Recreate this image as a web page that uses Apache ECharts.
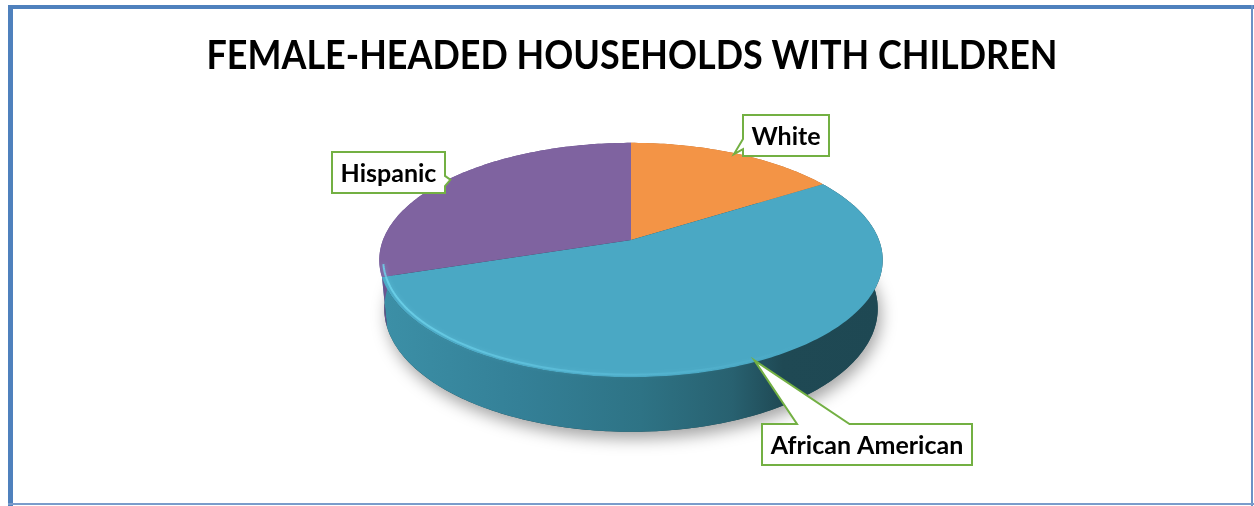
<!DOCTYPE html>
<html>
<head>
<meta charset="utf-8">
<style>
  html, body { margin: 0; padding: 0; background: #ffffff; }
  #chart { width: 1254px; height: 506px; }
</style>
<script src="https://cdn.jsdelivr.net/npm/echarts@6/dist/echarts.min.js"></script>
</head>
<body>
<div id="chart"></div>
<script>
// ---- data ----
const chartTitle = 'FEMALE-HEADED HOUSEHOLDS WITH CHILDREN';
const categories = ['White', 'African American', 'Hispanic'];
const shares = [16, 54, 30];

// ---- styling ----
const topColors = ['#F39446', '#4AA8C4', '#7F63A0'];
const sideStops = [
  [[0, '#c77a3a'], [1, '#a8622a']],
  [[0, '#3c90a7'], [0.28, '#348097'], [0.52, '#2e7385'], [0.7, '#286170'], [0.8, '#1f4954'], [1, '#1e4853']],
  [[0, '#6a5490'], [1, '#5a477a']]
];
const LABEL_FONT = 'bold 25px Lato';
const TITLE_FONT = 'bold 40px Lato';
// box top-left corners for the callouts
const labelBoxes = [[743, 115], [762, 424], [332, 152]];

// ---- 3D disc projection ----
const CX = 631, CY = 240, S = 248, DIST = 5.2;
const ELEV = 27.3 * Math.PI / 180;
const THICK = 0.2225;
const sinE = Math.sin(ELEV), cosE = Math.cos(ELEV);

function project(r, deg, w) {
  const t = deg * Math.PI / 180;
  const u = r * Math.sin(t), v = r * Math.cos(t);
  const yc = v * sinE + w * cosE;
  const zc = DIST + v * cosE - w * sinE;
  return [CX + S * DIST * u / zc, CY - S * DIST * yc / zc];
}
function arc(r, a0, a1, w) {
  const pts = [];
  const n = Math.max(2, Math.ceil(Math.abs(a1 - a0)));
  for (let k = 0; k <= n; k++) pts.push(project(r, a0 + (a1 - a0) * k / n, w));
  return pts;
}

const total = shares.reduce((a, b) => a + b, 0);
const startAngles = [];
let acc = 0;
shares.forEach(v => { startAngles.push(acc / total * 360); acc += v; });

const measureCtx = document.createElement('canvas').getContext('2d');
function textWidth(t, font) { measureCtx.font = font; return measureCtx.measureText(t).width; }

// rectangular callout with a wedge pointing at (tx, ty)
function calloutPoints(l, t, w, h, tx, ty) {
  const hc = l + w / 2, vc = t + h / 2;
  const dx = tx - hc, dy = ty - vc;
  const dq = dx * h / w;
  const pts = [[l, t]];
  const vertical = Math.abs(dy) > Math.abs(dq);
  const x1 = l + w * (dx > 0 ? 7 : 2) / 12, x2 = l + w * (dx > 0 ? 10 : 5) / 12;
  const y1 = t + h * (dy > 0 ? 7 : 2) / 12, y2 = t + h * (dy > 0 ? 10 : 5) / 12;
  if (vertical && dy < 0) pts.push([x1, t], [tx, ty], [x2, t]);
  pts.push([l + w, t]);
  if (!vertical && dx > 0) pts.push([l + w, y1], [tx, ty], [l + w, y2]);
  pts.push([l + w, t + h]);
  if (vertical && dy > 0) pts.push([x2, t + h], [tx, ty], [x1, t + h]);
  pts.push([l, t + h]);
  if (!vertical && dx < 0) pts.push([l, y2], [tx, ty], [l, y1]);
  return pts;
}

function renderSlice(params, api) {
  const i = params.dataIndex;
  const a0 = startAngles[i];
  const a1 = a0 + api.value(0) / total * 360;
  const children = [];

  if (i === 0) {
    // soft shadow under the whole disc
    children.push({
      type: 'polygon', z2: 0,
      shape: { points: arc(1, 0, 360, -THICK) },
      style: { fill: '#1e4853', shadowBlur: 16, shadowOffsetY: 7, shadowOffsetX: 3, shadowColor: 'rgba(0,0,0,0.36)' }
    });
  }

  // outer wall
  const wall = arc(1, a0, a1, 0).concat(arc(1, a0, a1, -THICK).reverse());
  children.push({
    type: 'polygon', z2: 1,
    shape: { points: wall },
    style: {
      fill: new echarts.graphic.LinearGradient(378, 0, 884, 0,
        sideStops[i].map(s => ({ offset: s[0], color: s[1] })), true)
    }
  });

  // top face
  const top = [project(0, 0, 0)].concat(arc(1, a0, a1, 0));
  children.push({
    type: 'polygon', z2: 5,
    shape: { points: top },
    style: { fill: topColors[i] }
  });

  // soft bevel highlight along the front rim
  const h0 = Math.max(a0, 110), h1 = Math.min(a1, 258);
  if (h1 > h0) {
    children.push({
      type: 'polyline', z2: 6,
      shape: { points: arc(0.985, h0, h1, 0) },
      style: {
        fill: null, lineWidth: 2,
        stroke: new echarts.graphic.LinearGradient(380, 0, 800, 0, [
          { offset: 0, color: 'rgba(110,212,236,0.85)' },
          { offset: 0.5, color: 'rgba(100,200,228,0.45)' },
          { offset: 1, color: 'rgba(100,200,228,0)' }
        ], true),
        shadowBlur: 4, shadowColor: 'rgba(120,215,240,0.5)'
      }
    });
  }

  // callout label
  const mid = (a0 + a1) / 2;
  const tip = project(0.99, mid, 0);
  const name = categories[i];
  const bw = Math.round(textWidth(name, LABEL_FONT) + 17), bh = 41;
  const [bl, bt] = labelBoxes[i];
  children.push({
    type: 'polygon', z2: 8,
    shape: { points: calloutPoints(bl, bt, bw, bh, tip[0], tip[1]) },
    style: { fill: '#ffffff', stroke: '#73B043', lineWidth: 2, lineJoin: 'miter' }
  });
  children.push({
    type: 'text', z2: 9,
    style: {
      text: name, x: bl + bw / 2, y: bt + bh / 2 + 1,
      align: 'center', verticalAlign: 'middle',
      font: LABEL_FONT, fill: '#000000'
    }
  });

  return { type: 'group', children: children };
}

// title squeezed horizontally to a condensed look
const titleScaleX = 851 / textWidth(chartTitle, TITLE_FONT);

const chart = echarts.init(document.getElementById('chart'), null, { renderer: 'canvas' });
chart.setOption({
  animation: false,
  backgroundColor: '#ffffff',
  graphic: [
    {
      type: 'text', x: 632, y: 56, scaleX: titleScaleX, z: 50,
      style: { text: chartTitle, font: TITLE_FONT, fill: '#000000', align: 'center', verticalAlign: 'middle' }
    },
    // chart frame
    { type: 'rect', shape: { x: 8, y: 5, width: 1250, height: 4 }, style: { fill: '#4F81BD' }, z: 100 },
    { type: 'rect', shape: { x: 8, y: 5, width: 5, height: 510 }, style: { fill: '#4F81BD' }, z: 100 },
    { type: 'rect', shape: { x: 1251, y: 5, width: 2, height: 510 }, style: { fill: '#6a92c6' }, z: 100 },
    { type: 'rect', shape: { x: 8, y: 503, width: 1250, height: 2 }, style: { fill: '#7a9ccb' }, z: 100 }
  ],
  series: [{
    type: 'custom',
    coordinateSystem: 'none',
    renderItem: renderSlice,
    data: shares.map((v, i) => ({ name: categories[i], value: [v] }))
  }]
});
</script>
</body>
</html>
